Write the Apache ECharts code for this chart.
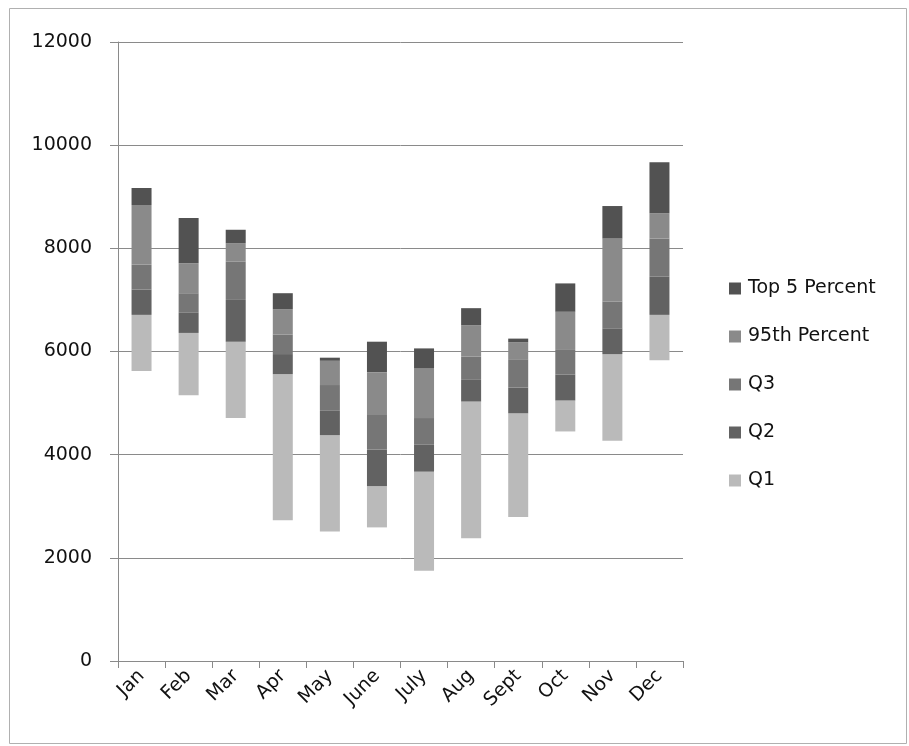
<!DOCTYPE html>
<html>
<head>
<meta charset="utf-8">
<script src="https://cdn.jsdelivr.net/npm/echarts@6/dist/echarts.min.js"></script>
<style>
  html, body { margin: 0; padding: 0; background: #fff; }
  #chart { width: 909px; height: 746px; }
</style>
</head>
<body>
<div id="chart"></div>
<script>
// Monthly distribution: boundaries of each band, bottom to top
const months = ['Jan', 'Feb', 'Mar', 'Apr', 'May', 'June', 'July', 'Aug', 'Sept', 'Oct', 'Nov', 'Dec'];
const lowest   = [5620, 5150, 4710, 2730, 2510, 2590, 1750, 2380, 2790, 4450, 4270, 5830];
const q1Top    = [6710, 6360, 6190, 5560, 4380, 3390, 3670, 5030, 4800, 5050, 5950, 6710];
const q2Top    = [7200, 6750, 7000, 5950, 4850, 4100, 4200, 5450, 5300, 5550, 6450, 7450];
const q3Top    = [7680, 7130, 7740, 6330, 5350, 4770, 4710, 5900, 5850, 6030, 6970, 8190];
const p95Top   = [8840, 7710, 8100, 6820, 5820, 5600, 5670, 6510, 6180, 6770, 8190, 8680];
const highest  = [9170, 8590, 8360, 7130, 5880, 6190, 6060, 6840, 6250, 7320, 8820, 9670];
const yTicks   = [0, 2000, 4000, 6000, 8000, 10000, 12000];

const diff = (a, b) => a.map((v, i) => v - b[i]);

const font = 'DejaVu Sans';
const bands = [
  { name: 'Q1',              data: diff(q1Top, lowest),  color: '#bababa' },
  { name: 'Q2',              data: diff(q2Top, q1Top),   color: '#626262' },
  { name: 'Q3',              data: diff(q3Top, q2Top),   color: '#767676' },
  { name: '95th Percent',    data: diff(p95Top, q3Top),  color: '#8a8a8a' },
  { name: 'Top 5 Percent',   data: diff(highest, p95Top), color: '#525252' }
];

const series = [{
  name: 'base',
  type: 'bar',
  stack: 'total',
  data: lowest,
  barWidth: 20,
  itemStyle: { color: 'transparent' },
  emphasis: { disabled: true },
  silent: true
}].concat(bands.map(b => ({
  name: b.name,
  type: 'bar',
  stack: 'total',
  data: b.data,
  barWidth: 20,
  itemStyle: { color: b.color }
})));

const chart = echarts.init(document.getElementById('chart'), null, { renderer: 'canvas' });
chart.setOption({
  animation: false,
  backgroundColor: '#ffffff',
  grid: { left: 118, right: 226, top: 42, bottom: 85, containLabel: false },
  legend: {
    orient: 'vertical',
    left: 724,
    top: 273,
    itemWidth: 12,
    itemHeight: 12,
    itemGap: 27,
    icon: 'rect',
    data: ['Top 5 Percent', '95th Percent', 'Q3', 'Q2', 'Q1'],
    textStyle: { fontFamily: font, fontSize: 19, color: '#111', lineHeight: 21, padding: [0, 0, 0, 2] }
  },
  xAxis: {
    type: 'category',
    data: months,
    axisLine: { lineStyle: { color: '#8a8a8a', width: 1 } },
    axisTick: { show: true, length: 7, lineStyle: { color: '#8a8a8a' } },
    axisLabel: { rotate: 45, fontFamily: font, fontSize: 19, color: '#111', margin: 12 }
  },
  yAxis: {
    type: 'value',
    min: 0,
    max: 12000,
    interval: 2000,
    axisLine: { show: true, lineStyle: { color: '#8a8a8a', width: 1 } },
    axisTick: { show: true, length: 8, lineStyle: { color: '#8a8a8a' } },
    axisLabel: {
      fontFamily: font, fontSize: 19, color: '#111', margin: 26,
      formatter: v => yTicks.includes(v) ? String(v) : ''
    },
    splitLine: { show: true, lineStyle: { color: '#8a8a8a', width: 1 } }
  },
  graphic: [{
    type: 'rect',
    shape: { x: 9.5, y: 8.5, width: 897, height: 735 },
    style: { fill: 'none', stroke: '#b0b0b0', lineWidth: 1 },
    silent: true
  }],
  series: series
});
</script>
</body>
</html>
